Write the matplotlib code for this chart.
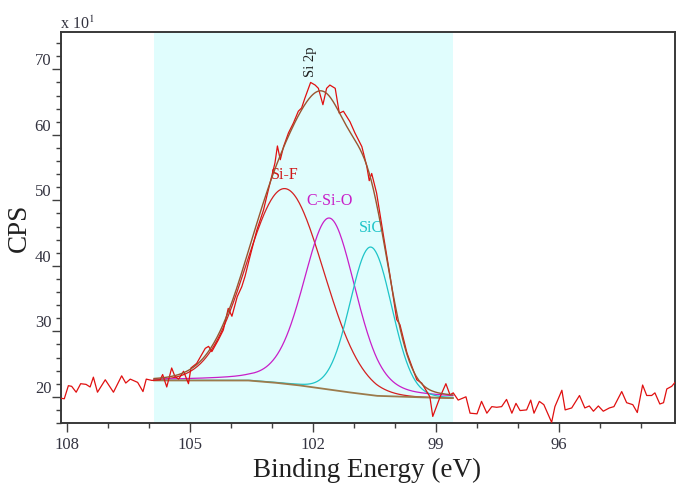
import numpy as np
import matplotlib
matplotlib.use("Agg")
import matplotlib.pyplot as plt
from matplotlib.ticker import MultipleLocator

plt.rcParams['font.family'] = ['Liberation Serif', 'DejaVu Serif']
plt.rcParams['mathtext.fontset'] = 'stix'

# raw spectrum (binding energy eV, counts x10)
be = [108.17, 108.07, 107.97, 107.89, 107.78, 107.67, 107.54, 107.44, 107.36, 107.26,
      107.07, 106.87, 106.67, 106.57, 106.46, 106.28, 106.15, 106.07, 105.93, 105.73,
      105.67, 105.57, 105.45, 105.37, 105.28, 105.16, 105.04, 104.98, 104.84, 104.63,
      104.55, 104.47, 104.31, 104.19, 104.07, 103.98, 103.85, 103.74, 103.66, 103.54,
      103.37, 103.21, 103.13, 102.93, 102.87, 102.80, 102.72, 102.60, 102.48, 102.36,
      102.28, 102.20, 102.06, 101.95, 101.87, 101.76, 101.67, 101.59, 101.46, 101.36,
      101.26, 101.10, 100.98, 100.81, 100.69, 100.63, 100.57, 100.45, 100.28, 100.12,
      99.96, 99.88, 99.71, 99.47, 99.35, 99.15, 99.08, 98.90, 98.76, 98.66,
      98.58, 98.46, 98.27, 98.17, 98.00, 97.89, 97.76, 97.64, 97.52, 97.40,
      97.28, 97.15, 97.05, 96.95, 96.79, 96.69, 96.61, 96.48, 96.37, 96.18,
      96.10, 95.93, 95.85, 95.69, 95.50, 95.37, 95.26, 95.16, 95.04, 94.92,
      94.77, 94.66, 94.47, 94.35, 94.20, 94.09, 93.96, 93.86, 93.74, 93.66,
      93.54, 93.45, 93.37, 93.25, 93.17]
cps = [19.8, 19.7, 21.7, 21.6, 20.7, 22.0, 21.9, 21.5, 23.0, 20.7,
       22.6, 20.7, 23.2, 22.1, 22.7, 22.2, 20.8, 22.7, 22.5, 22.6,
       23.4, 21.5, 24.4, 23.1, 22.7, 23.9, 22.0, 24.4, 25.1, 27.4,
       27.7, 26.9, 28.7, 30.2, 33.5, 32.3, 35.3, 36.8, 38.4, 41.4,
       45.5, 48.5, 50.6, 55.7, 58.3, 56.2, 58.2, 60.3, 61.8, 63.6,
       64.1, 65.6, 68.0, 67.6, 67.1, 64.6, 67.1, 67.6, 67.1, 63.3,
       63.6, 62.0, 60.3, 58.2, 55.2, 53.0, 54.1, 51.1, 44.5, 38.4,
       31.8, 31.0, 26.7, 22.6, 22.1, 20.0, 17.0, 20.0, 22.0, 20.3,
       20.6, 19.5, 20.0, 17.5, 17.4, 19.3, 17.5, 18.5, 18.4, 18.5,
       19.6, 17.5, 19.0, 17.9, 18.0, 19.5, 17.5, 19.3, 18.8, 16.1,
       18.5, 21.0, 18.0, 18.3, 20.2, 18.3, 18.6, 17.8, 18.6, 17.8,
       18.3, 18.5, 20.8, 19.1, 18.8, 17.6, 21.8, 20.2, 20.2, 20.6,
       18.9, 19.1, 21.2, 21.6, 22.2]

# background points
bg_be = [105.88, 103.6, 103.0, 102.4, 101.27, 100.45, 99.56, 98.59]
bg_cps = [22.5, 22.5, 22.2, 21.8, 20.8, 20.15, 19.95, 19.8]

# fitted components
peak_names = ['Si-F', 'C-Si-O', 'SiC']
peak_center = [102.68, 101.6, 100.59]
peak_height = [29.8, 26.2, 22.6]
peak_fwhm = [2.2, 1.5, 1.2]
peak_lor = [0.0, 0.25, 0.05]
peak_colors = ['#d42020', '#c81ec8', '#1ec4c8']

region = (105.88, 98.59)

def gl(x, c, h, w, m):
    g = np.exp(-4 * np.log(2) * ((x - c) / w) ** 2)
    l = 1 / (1 + 4 * ((x - c) / w) ** 2)
    return h * ((1 - m) * g + m * l)

xf = np.linspace(region[0], region[1], 400)
bgf = np.interp(xf, bg_be[::-1], bg_cps[::-1])

fig = plt.figure(figsize=(6.86, 4.96), dpi=100)
ax = fig.add_axes([61/686, 1-423/496, 614/686, 391/496])

ax.axvspan(region[1], region[0], color='#e0fdfd', lw=0, zorder=0)

env = bgf.copy()
for c, h, w, m, col in zip(peak_center, peak_height, peak_fwhm, peak_lor, peak_colors):
    comp = gl(xf, c, h, w, m)
    env += comp
    ax.plot(xf, bgf + comp, color=col, lw=0.9, zorder=2)

ax.plot(xf, bgf, color='#9c7b4c', lw=1.3, zorder=3)
ax.plot(be, cps, color='#e01010', lw=0.9, zorder=4)
ax.plot(xf, env, color='#9a5530', lw=1.0, zorder=5)

# labels
ax.text(peak_center[0], 53.9, 'Si-F', color='#d01818', fontsize=11.5, ha='center', va='center')
ax.text(peak_center[1], 49.9, 'C-Si-O', color='#c81ec8', fontsize=11.5, ha='center', va='center')
ax.text(peak_center[2], 45.8, 'SiC', color='#1ec4c8', fontsize=11.5, ha='center', va='center')
ax.text(102.07, 68.9, 'Si 2p', color='#202020', fontsize=10.5, rotation=90, ha='center', va='bottom')

ax.set_xlim(108.15, 93.17)
ax.set_ylim(16, 75.7)
ax.xaxis.set_minor_locator(MultipleLocator(1))
ax.yaxis.set_minor_locator(MultipleLocator(2))
ax.set_xticks([108, 105, 102, 99, 96])
ax.set_yticks([20, 30, 40, 50, 60, 70])

ax.tick_params(which='major', direction='out', length=6.5, width=1, color='#404040',
               labelsize=12, labelcolor='#333340')
ax.tick_params(which='minor', direction='out', length=3.5, width=1, color='#404040')
ax.tick_params(axis='y', pad=0.5)
for t in ax.get_yticklabels():
    t.set_verticalalignment('bottom')
for s in ax.spines.values():
    s.set_color('#383838')
    s.set_linewidth(1.4)

fig.text(60/686, 1-29/496, r'x 10$^{1}$', fontsize=11.5, color='#333340', va='baseline', ha='left')
fig.text(19/686, 1-228/496, 'CPS', fontsize=19.5, rotation=90, ha='center', va='center', color='#202020')
fig.text(367/686, 1-477/496, 'Binding Energy (eV)', fontsize=19.5, ha='center', va='baseline', color='#202020')

fig.savefig('out.png', dpi=100)
